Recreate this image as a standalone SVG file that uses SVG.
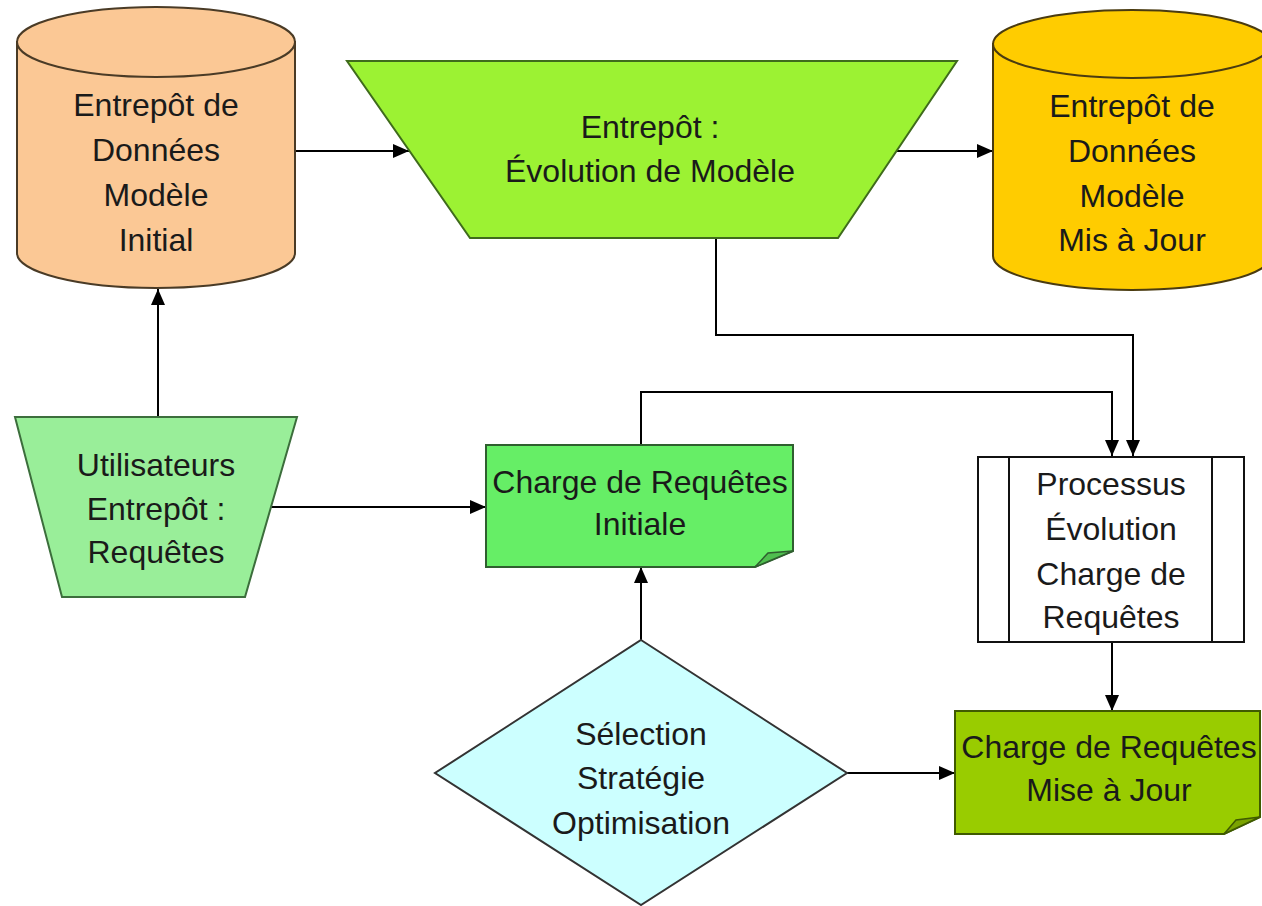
<svg xmlns="http://www.w3.org/2000/svg" width="1262" height="906" viewBox="0 0 1262 906">
<defs>
<marker id="ah" markerWidth="16" markerHeight="14" refX="16" refY="7" orient="auto" markerUnits="userSpaceOnUse"><path d="M0,0 L16,7 L0,14 Z" fill="#000"/></marker>
<style>
.t{font-family:"Liberation Sans",Arial,sans-serif;font-size:32px;fill:#1a1a1a;text-anchor:middle}
.c{fill:none;stroke:#000;stroke-width:2;marker-end:url(#ah)}
</style>
</defs>
<rect width="1262" height="906" fill="#fff"/>
<g id="connectors">
<line class="c" x1="295" y1="151" x2="409" y2="151"/>
<line class="c" x1="897" y1="151" x2="993" y2="151"/>
<polyline class="c" points="716,238 716,335 1133,335 1133,456"/>
<polyline class="c" points="641,445 641,392 1112,392 1112,456"/>
<line class="c" x1="158" y1="417" x2="158" y2="289"/>
<line class="c" x1="270" y1="507" x2="486" y2="507"/>
<line class="c" x1="641" y1="640" x2="641" y2="567"/>
<line class="c" x1="847" y1="773" x2="955" y2="773"/>
<line class="c" x1="1112" y1="642" x2="1112" y2="711"/>
</g>
<g id="cyl-initial">
<path d="M17,42 V253 A139,35 0 0 0 295,253 V42 Z" fill="#fbc895" stroke="#4a3b26" stroke-width="2"/>
<ellipse cx="156" cy="42" rx="139" ry="35" fill="#fbc895" stroke="#4a3b26" stroke-width="2"/>
<text class="t" x="156" y="116">Entrepôt de</text>
<text class="t" x="156" y="161">Données</text>
<text class="t" x="156" y="206">Modèle</text>
<text class="t" x="156" y="251">Initial</text>
</g>
<g id="evolution-modele">
<polygon points="347,61 957,61 838,238 470,238" fill="#9cf233" stroke="#3f6b1c" stroke-width="2"/>
<text class="t" x="650" y="138">Entrepôt :</text>
<text class="t" x="650" y="182">Évolution de Modèle</text>
</g>
<g id="cyl-maj">
<path d="M993,44 V256 A139,34 0 0 0 1271,256 V44 Z" fill="#ffcc00" stroke="#4a3b10" stroke-width="2"/>
<ellipse cx="1132" cy="44" rx="139" ry="34" fill="#ffcc00" stroke="#4a3b10" stroke-width="2"/>
<text class="t" x="1132" y="117">Entrepôt de</text>
<text class="t" x="1132" y="162">Données</text>
<text class="t" x="1132" y="207">Modèle</text>
<text class="t" x="1132" y="251">Mis à Jour</text>
</g>
<g id="utilisateurs">
<polygon points="15,417 297,417 245,597 62,597" fill="#99ee99" stroke="#3c6e3c" stroke-width="2"/>
<text class="t" x="156" y="476">Utilisateurs</text>
<text class="t" x="156" y="520">Entrepôt :</text>
<text class="t" x="156" y="563">Requêtes</text>
</g>
<g id="charge-initiale">
<path d="M486,445 H793 V551 L755,567 H486 Z" fill="#66ee66" stroke="#2f5f2f" stroke-width="2"/>
<path d="M755,567 L768,553 L793,551 Z" fill="#4fbf4f" stroke="#2f5f2f" stroke-width="1.5"/>
<text class="t" x="640" y="493">Charge de Requêtes</text>
<text class="t" x="640" y="535">Initiale</text>
</g>
<g id="selection">
<polygon points="641,640 847,773 641,905 435,773" fill="#ccffff" stroke="#333" stroke-width="2"/>
<text class="t" x="641" y="745">Sélection</text>
<text class="t" x="641" y="789">Stratégie</text>
<text class="t" x="641" y="834">Optimisation</text>
</g>
<g id="processus">
<rect x="978" y="457" width="266" height="185" fill="#fff" stroke="#111" stroke-width="2"/>
<line x1="1009" y1="457" x2="1009" y2="642" stroke="#111" stroke-width="2"/>
<line x1="1212" y1="457" x2="1212" y2="642" stroke="#111" stroke-width="2"/>
<text class="t" x="1111" y="495">Processus</text>
<text class="t" x="1111" y="540">Évolution</text>
<text class="t" x="1111" y="585">Charge de</text>
<text class="t" x="1111" y="628">Requêtes</text>
</g>
<g id="charge-maj">
<path d="M955,711 H1260 V817 L1224,834 H955 Z" fill="#99cc00" stroke="#3f5a00" stroke-width="2"/>
<path d="M1224,834 L1236,820 L1260,817 Z" fill="#7aa300" stroke="#3f5a00" stroke-width="1.5"/>
<text class="t" x="1109" y="758">Charge de Requêtes</text>
<text class="t" x="1109" y="801">Mise à Jour</text>
</g>
</svg>
